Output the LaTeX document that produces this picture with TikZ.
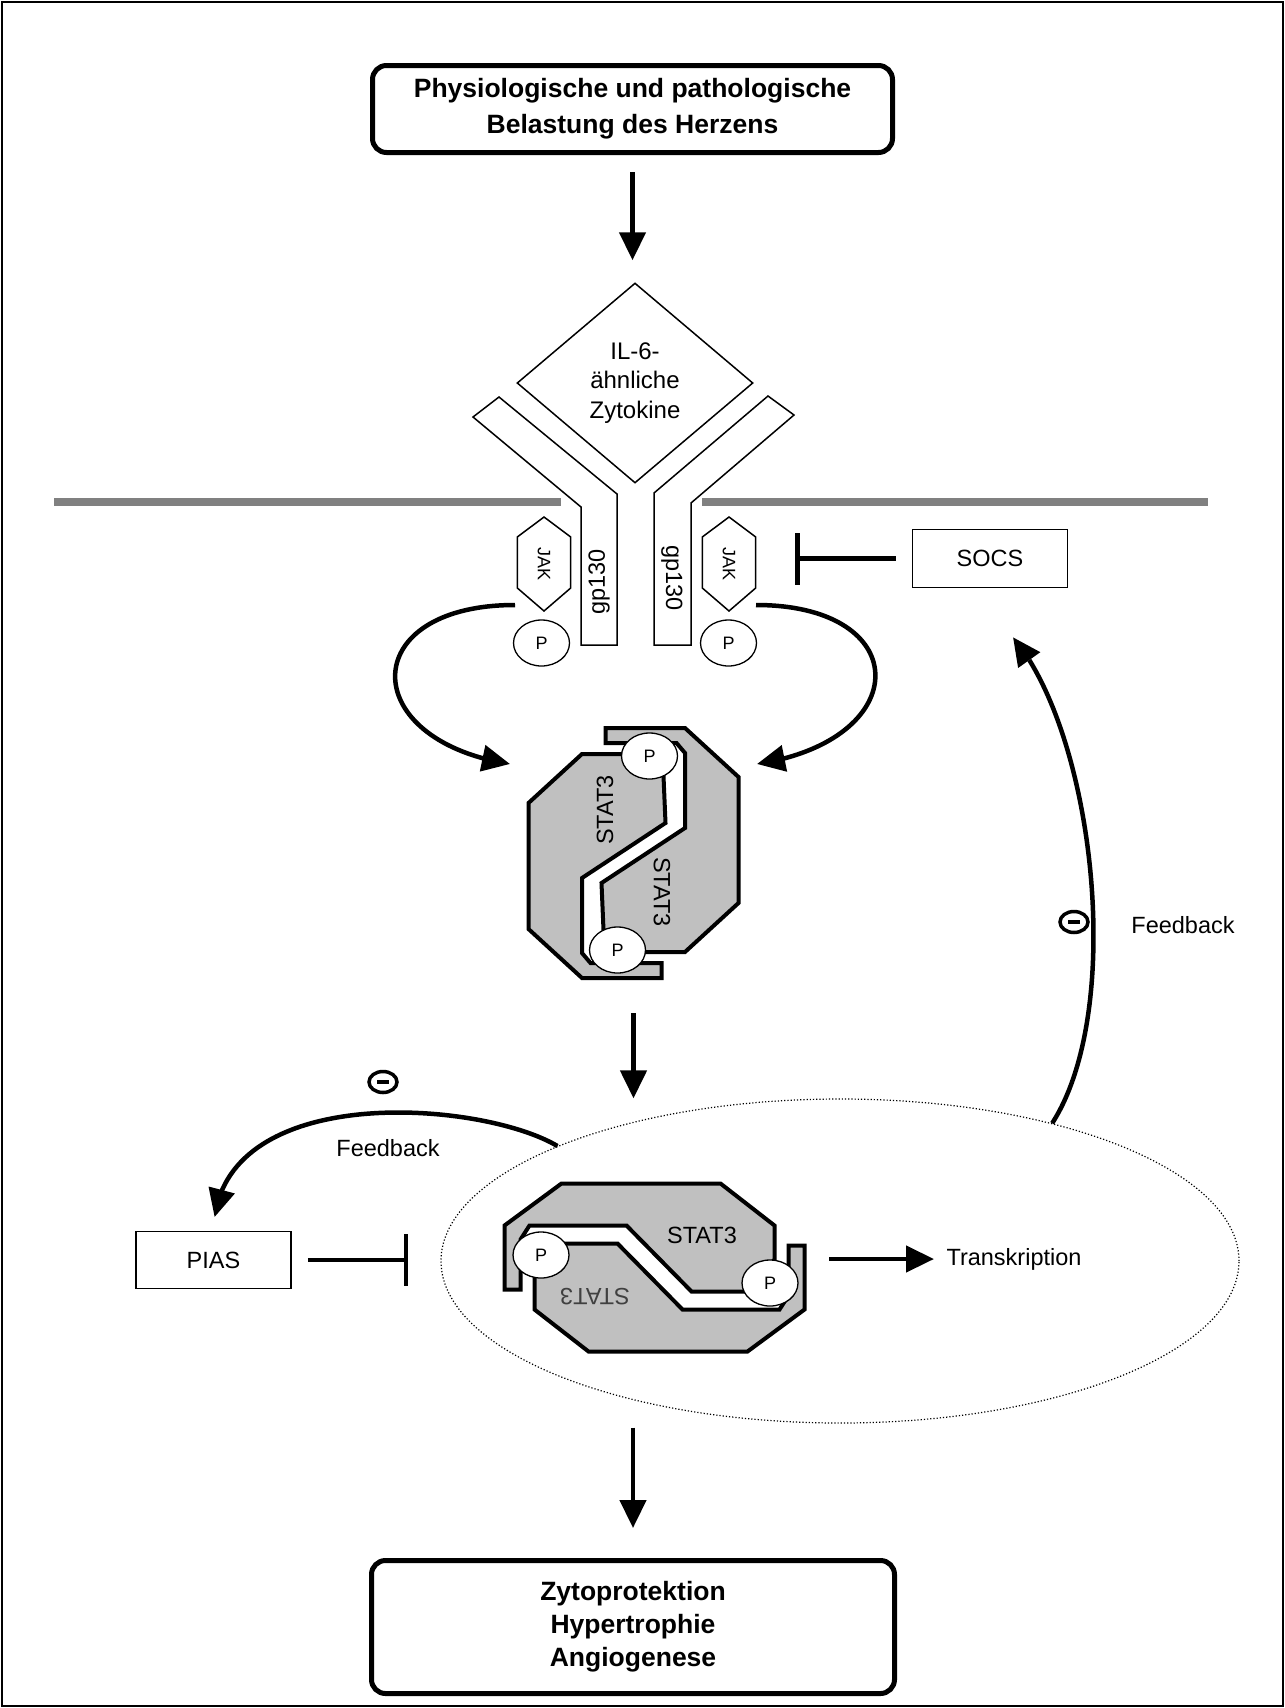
\documentclass[tikz,border=0pt]{standalone}
\usepackage{fontspec}
\setmainfont{Liberation Sans}
\usetikzlibrary{arrows.meta,bending,calc,shapes.geometric}
\definecolor{statgray}{HTML}{C0C0C0}
\definecolor{membgray}{HTML}{808080}
\tikzset{>={Triangle[length=28pt,width=26pt]}}
\tikzset{
  every node/.style={font=\fontsize{23.5}{28}\selectfont},
  flow/.style={line width=4.5pt,->},
  inhib/.style={line width=4.5pt,-{Bar[width=52pt]}},
  mainbox/.style={draw,line width=5pt,rounded corners=14pt,align=center},
  plainbox/.style={draw,line width=1.5pt},
  thinline/.style={draw,line width=1.5pt},
  membrane/.style={line width=7.5pt,membgray},
  stat/.style={draw,line width=4pt,fill=statgray},
  phos/.style={ellipse,draw,line width=1.3pt,fill=white,minimum width=56pt,minimum height=46pt,inner sep=0pt,font=\fontsize{18}{18}\selectfont},
  minus/.style={ellipse,draw,line width=3.5pt,minimum width=28pt,minimum height=21pt,inner sep=0pt,
    path picture={\draw[line width=4pt] ([xshift=-6pt]path picture bounding box.center) -- ([xshift=6pt]path picture bounding box.center);}},
}
\begin{document}
\begin{tikzpicture}[x=1pt,y=-1pt]
\useasboundingbox (0,0) rectangle (1285,1708);
\draw[line width=2pt] (2,2) rectangle (1283,1706);

% top and bottom boxes
\node[mainbox,minimum width=520pt,minimum height=87pt,font=\fontsize{26.5}{36}\selectfont\bfseries] (stress) at (632.5,109) {Physiologische und pathologische\\Belastung des Herzens};
\node[mainbox,minimum width=523pt,minimum height=133pt,font=\fontsize{26.5}{33}\selectfont\bfseries] (result) at (633,1627) {Zytoprotektion\\Hypertrophie\\Angiogenese};

% cytokine and receptors
\node[diamond,thinline,minimum width=236pt,minimum height=200pt,inner sep=0pt,align=center,font=\fontsize{24}{29.5}\selectfont] (cyto) at (635,383) {IL-6-\\ähnliche\\Zytokine};
\draw[flow,shorten <=17pt,shorten >=22pt] (stress.south) -- (stress.south |- cyto.north);

\draw[membrane] (54,502) -- (561,502);
\draw[membrane] (702,502) -- (1208,502);

\draw[thinline,fill=white] (499,397) -- (473,417) -- (581,507) -- (581,645) -- (617,645) -- (617,494) -- cycle;
\draw[thinline,fill=white] (768,396) -- (794,415) -- (691,503) -- (691,645) -- (654,645) -- (654,493) -- cycle;
\node[rotate=90] (gpL) at (599,582) {gp130};
\node[rotate=-90] (gpR) at (672,578) {gp130};

\foreach \n/\x in {jakL/544,jakR/729}{
  \draw[thinline] (\x,517) -- ++(26.7,20) -- ++(0,51) -- ++(-26.7,23) -- ++(-26.7,-23) -- ++(0,-51) -- cycle;
  \node[rotate=-90,font=\fontsize{18}{18}\selectfont] (\n) at (\x,563.5) {JAK};
}
\node[phos] (pL) at (541.5,643) {P};
\node[phos] (pR) at (728.5,643) {P};

% SOCS
\node[plainbox,minimum width=155pt,minimum height=58pt] (socs) at (990,558.5) {SOCS};
\draw[inhib,shorten <=16pt,shorten >=66pt] (socs.west) -- (socs.west -| jakR);

% STAT3 dimer
\node[minimum width=210pt,minimum height=250pt,inner sep=0pt] (stat1) at (633.5,853) {};
\foreach \r in {0,180}
  \draw[stat,shift={(633.5,853)},rotate=\r] (-28,-125) -- (51.5,-125) -- (105,-76) -- (105,50) -- (51.5,99) -- (8,99) -- (-30,77) -- (-32,30) -- (51.5,-25) -- (51.5,-100) -- (43,-110) -- (-28,-110) -- cycle;
\node[rotate=90] (s1a) at (605,810) {STAT3};
\node[rotate=-90] (s1b) at (662,892) {STAT3};
\node[phos] (p1a) at (649.5,756) {P};
\node[phos] (p1b) at (617.5,950) {P};

\coordinate (kinL) at (515,605);
\coordinate (kinR) at (756,605);
\coordinate (dockL) at (510,764);
\coordinate (dockR) at (757,764);
\draw[flow] (kinL) .. controls (356,605) and (356,740) .. (dockL);
\draw[flow] (kinR) .. controls (915,605) and (915,740) .. (dockR);

% nucleus
\node[ellipse,draw,line width=1.2pt,dash pattern=on 1.2pt off 2pt,minimum width=798pt,minimum height=324pt,inner sep=0pt] (nuc) at (840,1261) {};
\draw[flow,shorten <=35pt] (stat1.south) -- (stat1.south |- nuc.north);

\node[minimum width=301pt,minimum height=168pt,inner sep=0pt] (stat2) at (654.5,1267.5) {};
\foreach \r in {0,180}
  \draw[stat,shift={(654.5,1267.5)},rotate=\r] (-93,-84) -- (66,-84) -- (120,-42) -- (120,-8) -- (90,24) -- (37,24) -- (-28,-42) -- (-125,-42) -- (-134,-28) -- (-134,22) -- (-150,22) -- (-150,-42) -- cycle;
\node (s2a) at (702,1235) {STAT3};
\node[rotate=180,text=black!75] (s2b) at (595,1297) {STAT3};
\node[phos] (p2a) at (541,1255) {P};
\node[phos] (p2b) at (770,1283) {P};

\node (transk) at (1014,1259) {Transkription};
\draw[flow,shorten <=24pt,shorten >=9pt] (stat2.east |- transk.west) -- (transk.west);

\draw[flow,shorten <=4pt,shorten >=30pt] (result.north |- nuc.south) -- (result.north);

% PIAS
\node[plainbox,minimum width=155pt,minimum height=57pt] (pias) at (213.5,1260) {PIAS};
\draw[inhib,shorten <=16pt,shorten >=32pt] (pias.east) -- (pias.east -| nuc.west);

% feedback loops
\draw[flow,shorten >=14pt] (nuc.north west) .. controls (480,1100) and (217,1080) .. (pias.north);
\node[minus] (minusL) at (383,1082) {};
\node (fbL) at (388,1148) {Feedback};

\coordinate (fbR) at ($(socs.south)+(23,49)$);
\draw[flow] (nuc.33) .. controls (1125,1010) and (1095,735) .. (fbR);
\node[minus] (minusR) at (1074,922) {};
\node (fbRtxt) at (1183,925) {Feedback};
\end{tikzpicture}
\end{document}
